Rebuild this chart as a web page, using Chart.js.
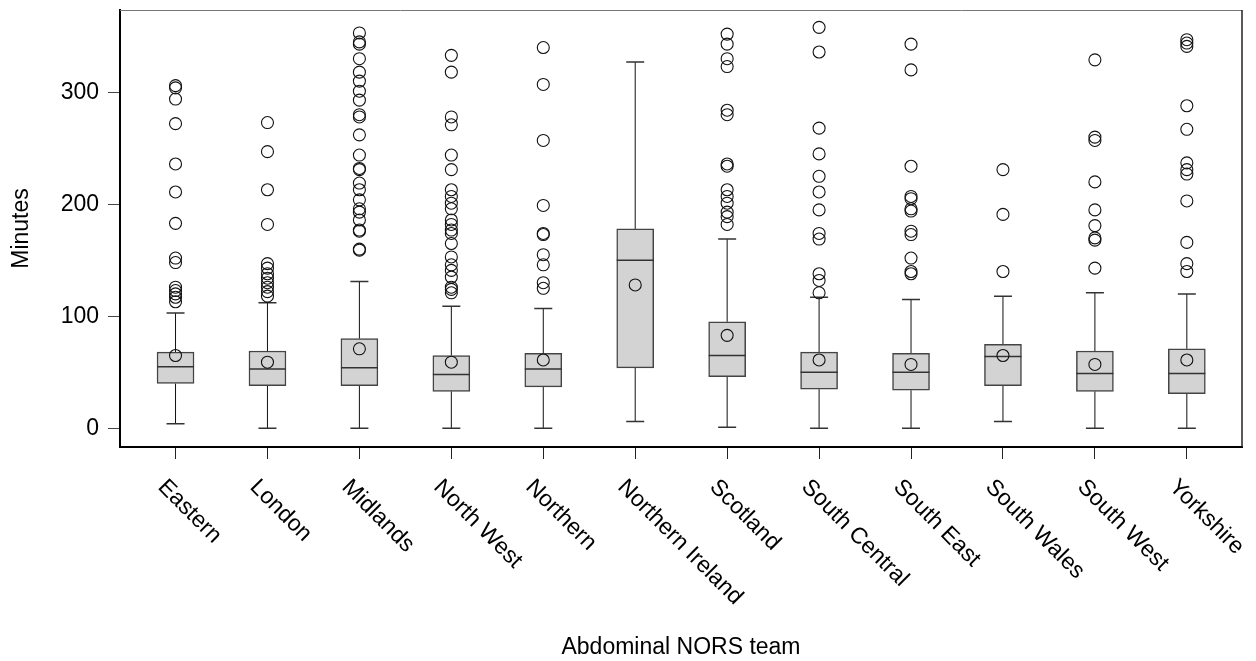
<!DOCTYPE html>
<html>
<head>
<meta charset="utf-8">
<script src="https://cdn.jsdelivr.net/npm/chart.js@4.4.1/dist/chart.umd.min.js"></script>
<style>
    body { margin: 0; background: #fff; }
    #box { width: 1256px; height: 661px; }
</style>
</head>
<body>
<div id="box"><canvas id="grafico"></canvas></div>
<script>
const categorias = ["Eastern", "London", "Midlands", "North West", "Northern", "Northern Ireland",
    "Scotland", "South Central", "South East", "South Wales", "South West", "Yorkshire"];

const bigodeMin = [4, 0, 0, 0, 0, 6, 1, 0, 0, 6, 0, 0];
const q1 = [40, 38, 38, 33, 37, 54, 46, 35, 34, 38, 33, 31];
const mediana = [55, 53, 54, 48, 53, 150, 65, 50, 50, 64, 49, 49];
const q3 = [68, 69, 80, 65, 67, 178, 95, 68, 67, 75, 69, 71];
const bigodeMax = [103, 112, 131, 109, 107, 327, 169, 117, 115, 118, 121, 120];
const medias = [65, 59, 71, 59, 61, 128, 83, 61, 57, 65, 57, 61];

const outliers = [
    [306, 304, 294, 272, 236, 211, 183, 152, 148, 126, 123, 120, 117, 113],
    [273, 247, 213, 182, 147, 143, 138, 134, 130, 126, 122, 118],
    [353, 345, 343, 330, 318, 310, 301, 293, 280, 278, 262, 244, 232, 231, 219, 213, 204, 196, 193, 186, 177, 176, 160, 159],
    [333, 318, 278, 271, 244, 231, 213, 207, 201, 196, 186, 182, 177, 174, 165, 153, 146, 141, 135, 126, 124, 121],
    [340, 307, 257, 199, 174, 173, 155, 146, 130, 125],
    [],
    [352, 343, 330, 323, 284, 280, 236, 234, 213, 207, 201, 193, 189, 182],
    [358, 336, 268, 245, 225, 211, 195, 174, 169, 138, 132, 121],
    [343, 320, 234, 207, 205, 196, 194, 176, 173, 152, 140, 138],
    [231, 191, 140],
    [329, 260, 257, 220, 195, 181, 170, 168, 143],
    [347, 344, 341, 288, 267, 237, 231, 227, 203, 166, 147, 140]
];

const yTicks = [0, 100, 200, 300];

const fonte = "'Liberation Sans', Arial, sans-serif";

const pontosOutliers = [];
outliers.forEach((lista, i) => {
    lista.forEach(v => pontosOutliers.push({ x: i, y: v }));
});

// whiskers, caps and medians drawn with the chart scales
const caixasPlugin = {
    id: "caixas",
    beforeDatasetsDraw(chart) {
        const ctx = chart.ctx;
        const x = chart.scales.x, y = chart.scales.y;
        ctx.save();
        categorias.forEach((c, i) => {
            const px = x.getPixelForValue(i);
            ctx.strokeStyle = "#111";
            ctx.lineWidth = 1;
            ctx.beginPath();
            ctx.moveTo(px, y.getPixelForValue(bigodeMin[i]));
            ctx.lineTo(px, y.getPixelForValue(q1[i]));
            ctx.moveTo(px, y.getPixelForValue(q3[i]));
            ctx.lineTo(px, y.getPixelForValue(bigodeMax[i]));
            ctx.stroke();
            ctx.lineWidth = 1.5;
            ctx.strokeStyle = "#333";
            ctx.beginPath();
            [bigodeMin[i], bigodeMax[i]].forEach(v => {
                const py = y.getPixelForValue(v);
                ctx.moveTo(px - 9, py);
                ctx.lineTo(px + 9, py);
            });
            ctx.stroke();
        });
        ctx.restore();
    },
    afterDatasetDraw(chart, args) {
        if (args.index !== 0) return;
        const ctx = chart.ctx;
        const x = chart.scales.x, y = chart.scales.y;
        ctx.save();
        ctx.strokeStyle = "#333";
        ctx.lineWidth = 1.5;
        ctx.beginPath();
        categorias.forEach((c, i) => {
            const px = x.getPixelForValue(i);
            const py = y.getPixelForValue(mediana[i]);
            ctx.moveTo(px - 18.5, py);
            ctx.lineTo(px + 18.5, py);
        });
        ctx.stroke();
        ctx.restore();
    },
    afterDraw(chart) {
        const ctx = chart.ctx;
        const a = chart.chartArea;
        const x = chart.scales.x;
        ctx.save();
        ctx.strokeStyle = "#777";
        ctx.lineWidth = 1;
        ctx.beginPath();
        ctx.moveTo(a.left, a.top + 0.5);
        ctx.lineTo(a.right, a.top + 0.5);
        ctx.stroke();
        ctx.strokeStyle = "#222";
        ctx.lineWidth = 1.5;
        ctx.beginPath();
        ctx.moveTo(a.right, a.top);
        ctx.lineTo(a.right, a.bottom);
        ctx.stroke();

        // rotated category labels
        ctx.fillStyle = "#000";
        ctx.font = "23px " + fonte;
        ctx.textAlign = "left";
        ctx.textBaseline = "alphabetic";
        categorias.forEach((c, i) => {
            const px = x.getPixelForValue(i);
            ctx.save();
            ctx.translate(px - 18.5, a.bottom + 41);
            ctx.rotate(Math.PI / 4);
            ctx.fillText(c, 0, 0);
            ctx.restore();
        });
        ctx.restore();
    }
};

new Chart(document.getElementById("grafico"), {
    type: "bar",
    data: {
        datasets: [
            {
                type: "bar",
                data: categorias.map((c, i) => ({ x: i, y: [q1[i], q3[i]] })),
                backgroundColor: "#d3d3d3",
                borderColor: "#444",
                borderWidth: 1.5,
                borderSkipped: false,
                barThickness: 37,
                order: 3
            },
            {
                type: "scatter",
                data: pontosOutliers,
                pointStyle: "circle",
                pointRadius: 6,
                borderColor: "#111",
                borderWidth: 1.1,
                backgroundColor: "rgba(0,0,0,0)",
                order: 2
            },
            {
                type: "scatter",
                data: medias.map((v, i) => ({ x: i, y: v })),
                pointStyle: "circle",
                pointRadius: 6,
                borderColor: "#111",
                borderWidth: 1.1,
                backgroundColor: "rgba(0,0,0,0)",
                order: 1
            }
        ]
    },
    options: {
        responsive: true,
        maintainAspectRatio: false,
        animation: false,
        layout: { padding: { top: 10, right: 14, left: 0, bottom: 0 } },
        plugins: {
            legend: { display: false },
            tooltip: { enabled: false }
        },
        scales: {
            x: {
                type: "linear",
                min: -0.604,
                max: 11.6,
                offset: false,
                afterBuildTicks: s => { s.ticks = categorias.map((c, i) => ({ value: i })); },
                afterFit: s => { s.height = 214; s.paddingLeft = 0; s.paddingRight = 0; },
                ticks: { display: false },
                grid: { drawOnChartArea: false, drawTicks: true, tickLength: 12, color: "#222", offset: false },
                border: { color: "#000", width: 2 },
                title: {
                    display: true,
                    text: "Abdominal NORS team",
                    color: "#000",
                    font: { family: fonte, size: 23 },
                    padding: { top: 0, bottom: 0 }
                }
            },
            y: {
                type: "linear",
                min: -16.7,
                max: 373.5,
                afterBuildTicks: s => { s.ticks = yTicks.map(v => ({ value: v })); },
                afterFit: s => { s.width = 120; s.paddingTop = 0; s.paddingBottom = 0; },
                ticks: { color: "#000", font: { family: fonte, size: 23 }, padding: 9 },
                grid: { drawOnChartArea: false, drawTicks: true, tickLength: 12, color: "#444" },
                border: { color: "#000", width: 2 },
                title: {
                    display: true,
                    text: "Minutes",
                    color: "#000",
                    font: { family: fonte, size: 23 },
                    padding: { top: 8, bottom: 0 }
                }
            }
        }
    },
    plugins: [caixasPlugin]
});
</script>
</body>
</html>
